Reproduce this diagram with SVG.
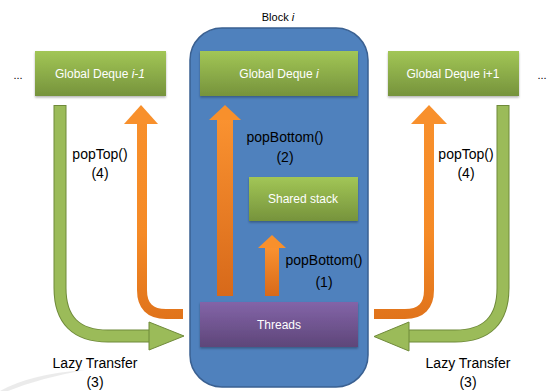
<svg xmlns="http://www.w3.org/2000/svg" width="548" height="391" viewBox="0 0 548 391">
<defs>
<linearGradient id="gG" x1="0" y1="0" x2="0" y2="1"><stop offset="0" stop-color="#A2C656"/><stop offset="1" stop-color="#76933C"/></linearGradient>
<linearGradient id="pG" x1="0" y1="0" x2="0" y2="1"><stop offset="0" stop-color="#8364A8"/><stop offset="1" stop-color="#5E4679"/></linearGradient>
<linearGradient id="oV" x1="0" y1="0" x2="0" y2="1"><stop offset="0" stop-color="#FA9230"/><stop offset="1" stop-color="#D7691A"/></linearGradient>
<linearGradient id="oU" gradientUnits="userSpaceOnUse" x1="0" y1="105" x2="0" y2="320"><stop offset="0" stop-color="#F8902C"/><stop offset="0.6" stop-color="#F58A26"/><stop offset="1" stop-color="#E0731B"/></linearGradient>
<filter id="sh" x="-10%" y="-10%" width="120%" height="130%"><feDropShadow dx="0" dy="1.5" stdDeviation="1.2" flood-color="#000" flood-opacity="0.3"/></filter>
<style>
.box{filter:url(#sh)}
.g{fill:url(#gG)}
.wt{font-family:"Liberation Sans",Arial,sans-serif;font-size:12px;fill:#fff;text-anchor:middle}
.bt{font-family:"Liberation Sans",Arial,sans-serif;font-size:14px;fill:#000;text-anchor:middle}
.st{font-family:"Liberation Sans",Arial,sans-serif;font-size:11px;fill:#000;text-anchor:middle}
.gl{fill:none;stroke:#9BBB59;stroke-width:11}
.gle{fill:none;stroke:#6F8A3A;stroke-width:13}
.ol{fill:none;stroke:url(#oU);stroke-width:10}
</style>
</defs>
<path d="M0,391 Q30,374 85,370 Q40,378 8,391 Z" fill="#E6E6E6" opacity="0.8"/>
<g id="block">
<rect x="190" y="28" width="178" height="359" rx="32" fill="#4F81BD" stroke="#3A6091" stroke-width="1.5"/>
<text class="st" x="278" y="21">Block <tspan font-style="italic">i</tspan></text>
</g>
<g id="connectors">
<g id="left-green">
<path class="gle" d="M60,105 V288 Q60,336 108,336 H150"/>
<path class="gl" d="M60,106 V288 Q60,336 108,336 H151"/>
<polygon points="149,322 184,336 149,350" fill="#9BBB59" stroke="#6F8A3A" stroke-width="1"/>
</g>
<g id="left-orange">
<path class="ol" d="M142,122 V290 Q142,314 166,314 H183"/>
<polygon points="124,124 141,105 158,124" fill="#F8902C"/>
</g>
<g id="right-orange">
<path class="ol" d="M429,122 V290 Q429,314 405,314 H374"/>
<polygon points="411,124 429,105 447,124" fill="#F8902C"/>
</g>
<g id="right-green">
<path class="gle" d="M503,105 V288 Q503,336 455,336 H408"/>
<path class="gl" d="M503,106 V288 Q503,336 455,336 H407"/>
<polygon points="409,322 374,336.5 409,351" fill="#9BBB59" stroke="#6F8A3A" stroke-width="1"/>
</g>
<g id="inner-big-orange">
<rect x="217" y="119" width="16" height="177" fill="url(#oV)"/>
<polygon points="209,120 225,105 241,120" fill="#F8902C"/>
</g>
<g id="inner-small-orange">
<rect x="265" y="247" width="14" height="49" fill="url(#oV)"/>
<polygon points="258,248 272,235 286,248" fill="#F8902C"/>
</g>
<text class="bt" x="100" y="159">popTop()</text>
<text class="bt" x="100" y="178">(4)</text>
<text class="bt" x="466" y="159">popTop()</text>
<text class="bt" x="466" y="178">(4)</text>
<text class="bt" x="285" y="142">popBottom()</text>
<text class="bt" x="285" y="162">(2)</text>
<text class="bt" x="324" y="265">popBottom()</text>
<text class="bt" x="324" y="287">(1)</text>
<text class="bt" x="95" y="368">Lazy Transfer</text>
<text class="bt" x="95" y="387">(3)</text>
<text class="bt" x="468" y="368">Lazy Transfer</text>
<text class="bt" x="468" y="387">(3)</text>
</g>
<g id="deque-left">
<rect class="box g" x="35" y="51" width="131" height="45"/>
<text class="wt" x="100" y="78">Global Deque <tspan font-style="italic">i-1</tspan></text>
</g>
<g id="deque-i">
<rect class="box g" x="200" y="51" width="158" height="45"/>
<text class="wt" x="279" y="78">Global Deque <tspan font-style="italic">i</tspan></text>
</g>
<g id="deque-right">
<rect class="box g" x="388" y="51" width="131" height="45"/>
<text class="wt" x="453" y="78">Global Deque i+1</text>
</g>
<g id="shared-stack">
<rect class="box g" x="249" y="177" width="109" height="44"/>
<text class="wt" x="303" y="203">Shared stack</text>
</g>
<g id="threads">
<rect class="box" x="200" y="302" width="158" height="45" fill="url(#pG)"/>
<text class="wt" x="279" y="329">Threads</text>
</g>
<text class="st" x="18" y="79">...</text>
<text class="st" x="542" y="79">...</text>
</svg>
